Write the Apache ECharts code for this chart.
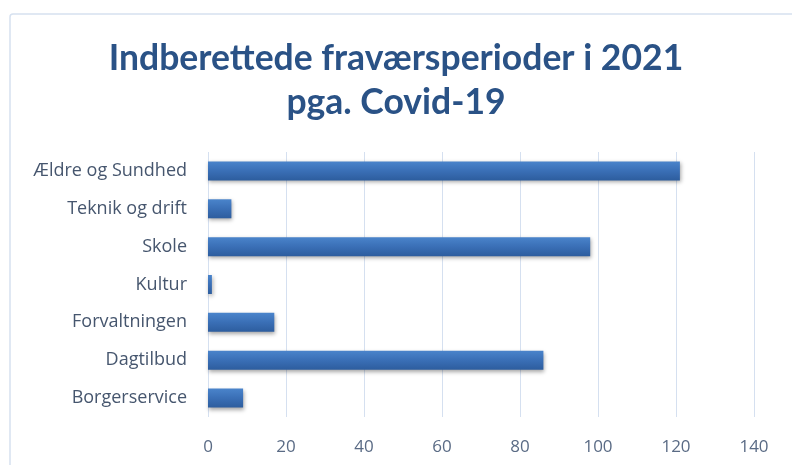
<!DOCTYPE html>
<html>
<head>
<meta charset="utf-8">
<script src="https://cdn.jsdelivr.net/npm/echarts@6/dist/echarts.min.js"></script>
<style>
  html, body { margin: 0; padding: 0; background: #fff; }
  #chart { width: 792px; height: 465px; }
</style>
</head>
<body>
<div id="chart"></div>
<script>
// kategorier (nederst -> øverst)
const categories = ['Borgerservice', 'Dagtilbud', 'Forvaltningen', 'Kultur', 'Skole', 'Teknik og drift', 'Ældre og Sundhed']
const values = [9, 86, 17, 1, 98, 6, 121]
const axisTicks = [0, 20, 40, 60, 80, 100, 120, 140]

const chart = echarts.init(document.getElementById('chart'))

const option = {
  backgroundColor: '#fff',
  animation: false,
  graphic: [
    {
      type: 'rect',
      shape: { x: 10, y: 14, width: 800, height: 470, r: 3 },
      style: { fill: 'none', stroke: '#D6E1F0', lineWidth: 1.5 },
      silent: true
    }
  ],
  title: {
    text: 'Indberettede fraværsperioder i 2021\npga. Covid-19',
    left: 'center',
    top: 32,
    textStyle: {
      fontFamily: 'Lato',
      fontWeight: 'bold',
      fontSize: 35.5,
      lineHeight: 44,
      color: '#2A5286'
    }
  },
  grid: {
    left: 208,
    right: 38,
    top: 152,
    bottom: 48
  },
  xAxis: {
    type: 'value',
    min: axisTicks[0],
    max: axisTicks[axisTicks.length - 1],
    interval: 20,
    axisLine: { show: false },
    axisTick: { show: false },
    splitLine: { lineStyle: { color: '#D5E0F0', width: 1 } },
    axisLabel: {
      margin: 22,
      fontFamily: 'Open Sans',
      fontSize: 17,
      color: '#5A6B85'
    }
  },
  yAxis: {
    type: 'category',
    data: categories,
    axisLine: { show: false },
    axisTick: { show: false },
    axisLabel: {
      margin: 21,
      fontFamily: 'Open Sans',
      fontSize: 18,
      color: '#46566E'
    }
  },
  series: [
    {
      type: 'bar',
      data: values,
      barWidth: 19,
      itemStyle: {
        color: new echarts.graphic.LinearGradient(0, 0, 0, 1, [
          { offset: 0, color: '#4A84CB' },
          { offset: 0.5, color: '#3A6FB6' },
          { offset: 1, color: '#2D5D9E' }
        ]),
        shadowColor: 'rgba(0, 0, 0, 0.35)',
        shadowBlur: 4,
        shadowOffsetX: 1,
        shadowOffsetY: 2
      }
    }
  ]
}

chart.setOption(option)
</script>
</body>
</html>
